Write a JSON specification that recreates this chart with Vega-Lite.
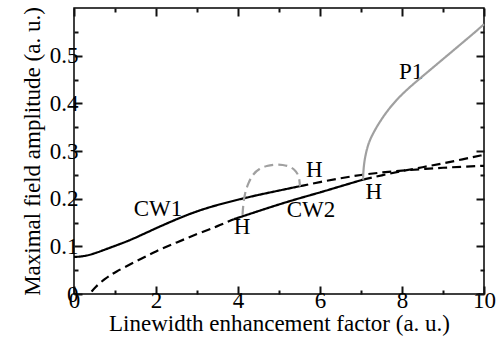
{
  "$schema": "https://vega.github.io/schema/vega-lite/v6.json",
  "width": 410,
  "height": 286,
  "autosize": "none",
  "padding": {"left": 74, "top": 8, "right": 20, "bottom": 49},
  "background": "white",
  "config": {
    "view": {"stroke": "black", "strokeWidth": 1.5},
    "font": "Liberation Serif",
    "axis": {"grid": false, "labelColor": "black", "titleColor": "black", "labelFont": "Liberation Serif", "titleFont": "Liberation Serif", "labelFontSize": 23, "titleFontSize": 23, "titleFontWeight": "normal", "labelFlush": false, "labelOverlap": false}
  },
  "datasets": {
    "curves": [
      {"seg": "CW1s", "col": "k", "dash": "solid", "x": 0, "y": 0.0777},
      {"seg": "CW1s", "col": "k", "dash": "solid", "x": 0.25, "y": 0.079},
      {"seg": "CW1s", "col": "k", "dash": "solid", "x": 0.5, "y": 0.085},
      {"seg": "CW1s", "col": "k", "dash": "solid", "x": 0.75, "y": 0.093},
      {"seg": "CW1s", "col": "k", "dash": "solid", "x": 1, "y": 0.101},
      {"seg": "CW1s", "col": "k", "dash": "solid", "x": 1.25, "y": 0.109},
      {"seg": "CW1s", "col": "k", "dash": "solid", "x": 1.5, "y": 0.118},
      {"seg": "CW1s", "col": "k", "dash": "solid", "x": 2, "y": 0.138},
      {"seg": "CW1s", "col": "k", "dash": "solid", "x": 2.5, "y": 0.157},
      {"seg": "CW1s", "col": "k", "dash": "solid", "x": 3, "y": 0.174},
      {"seg": "CW1s", "col": "k", "dash": "solid", "x": 3.5, "y": 0.187},
      {"seg": "CW1s", "col": "k", "dash": "solid", "x": 4, "y": 0.198},
      {"seg": "CW1s", "col": "k", "dash": "solid", "x": 4.5, "y": 0.208},
      {"seg": "CW1s", "col": "k", "dash": "solid", "x": 5, "y": 0.217},
      {"seg": "CW1s", "col": "k", "dash": "solid", "x": 5.5, "y": 0.226},
      {"seg": "CW1d", "col": "k", "dash": "dashed", "x": 5.5, "y": 0.226},
      {"seg": "CW1d", "col": "k", "dash": "dashed", "x": 6, "y": 0.235},
      {"seg": "CW1d", "col": "k", "dash": "dashed", "x": 6.5, "y": 0.243},
      {"seg": "CW1d", "col": "k", "dash": "dashed", "x": 7, "y": 0.25},
      {"seg": "CW1d", "col": "k", "dash": "dashed", "x": 7.5, "y": 0.255},
      {"seg": "CW1d", "col": "k", "dash": "dashed", "x": 8, "y": 0.259},
      {"seg": "CW1d", "col": "k", "dash": "dashed", "x": 8.5, "y": 0.262},
      {"seg": "CW1d", "col": "k", "dash": "dashed", "x": 9, "y": 0.265},
      {"seg": "CW1d", "col": "k", "dash": "dashed", "x": 9.5, "y": 0.267},
      {"seg": "CW1d", "col": "k", "dash": "dashed", "x": 10, "y": 0.269},
      {"seg": "CW2a", "col": "k", "dash": "dashed", "x": 0.43, "y": 0.005},
      {"seg": "CW2a", "col": "k", "dash": "dashed", "x": 0.5, "y": 0.013},
      {"seg": "CW2a", "col": "k", "dash": "dashed", "x": 0.75, "y": 0.032},
      {"seg": "CW2a", "col": "k", "dash": "dashed", "x": 1, "y": 0.046},
      {"seg": "CW2a", "col": "k", "dash": "dashed", "x": 1.5, "y": 0.068},
      {"seg": "CW2a", "col": "k", "dash": "dashed", "x": 2, "y": 0.09},
      {"seg": "CW2a", "col": "k", "dash": "dashed", "x": 2.5, "y": 0.108},
      {"seg": "CW2a", "col": "k", "dash": "dashed", "x": 3, "y": 0.126},
      {"seg": "CW2a", "col": "k", "dash": "dashed", "x": 3.5, "y": 0.142},
      {"seg": "CW2a", "col": "k", "dash": "dashed", "x": 3.9, "y": 0.157},
      {"seg": "CW2s", "col": "k", "dash": "solid", "x": 3.9, "y": 0.157},
      {"seg": "CW2s", "col": "k", "dash": "solid", "x": 4.5, "y": 0.174},
      {"seg": "CW2s", "col": "k", "dash": "solid", "x": 5, "y": 0.188},
      {"seg": "CW2s", "col": "k", "dash": "solid", "x": 5.5, "y": 0.201},
      {"seg": "CW2s", "col": "k", "dash": "solid", "x": 6, "y": 0.213},
      {"seg": "CW2s", "col": "k", "dash": "solid", "x": 6.5, "y": 0.226},
      {"seg": "CW2s", "col": "k", "dash": "solid", "x": 7.05, "y": 0.24},
      {"seg": "CW2b", "col": "k", "dash": "dashed", "x": 7.05, "y": 0.24},
      {"seg": "CW2b", "col": "k", "dash": "dashed", "x": 7.5, "y": 0.249},
      {"seg": "CW2b", "col": "k", "dash": "dashed", "x": 8, "y": 0.258},
      {"seg": "CW2b", "col": "k", "dash": "dashed", "x": 8.5, "y": 0.266},
      {"seg": "CW2b", "col": "k", "dash": "dashed", "x": 9, "y": 0.274},
      {"seg": "CW2b", "col": "k", "dash": "dashed", "x": 9.5, "y": 0.283},
      {"seg": "CW2b", "col": "k", "dash": "dashed", "x": 10, "y": 0.292},
      {"seg": "ARC", "col": "g", "dash": "dashed", "x": 4.11, "y": 0.166},
      {"seg": "ARC", "col": "g", "dash": "dashed", "x": 4.13, "y": 0.19},
      {"seg": "ARC", "col": "g", "dash": "dashed", "x": 4.17, "y": 0.212},
      {"seg": "ARC", "col": "g", "dash": "dashed", "x": 4.25, "y": 0.233},
      {"seg": "ARC", "col": "g", "dash": "dashed", "x": 4.37, "y": 0.252},
      {"seg": "ARC", "col": "g", "dash": "dashed", "x": 4.52, "y": 0.263},
      {"seg": "ARC", "col": "g", "dash": "dashed", "x": 4.7, "y": 0.269},
      {"seg": "ARC", "col": "g", "dash": "dashed", "x": 4.9, "y": 0.272},
      {"seg": "ARC", "col": "g", "dash": "dashed", "x": 5.1, "y": 0.271},
      {"seg": "ARC", "col": "g", "dash": "dashed", "x": 5.25, "y": 0.268},
      {"seg": "ARC", "col": "g", "dash": "dashed", "x": 5.38, "y": 0.261},
      {"seg": "ARC", "col": "g", "dash": "dashed", "x": 5.46, "y": 0.252},
      {"seg": "ARC", "col": "g", "dash": "dashed", "x": 5.5, "y": 0.24},
      {"seg": "ARC", "col": "g", "dash": "dashed", "x": 5.51, "y": 0.226},
      {"seg": "P1", "col": "g", "dash": "solid", "x": 7.05, "y": 0.24},
      {"seg": "P1", "col": "g", "dash": "solid", "x": 7.06, "y": 0.262},
      {"seg": "P1", "col": "g", "dash": "solid", "x": 7.09, "y": 0.283},
      {"seg": "P1", "col": "g", "dash": "solid", "x": 7.14, "y": 0.303},
      {"seg": "P1", "col": "g", "dash": "solid", "x": 7.2, "y": 0.32},
      {"seg": "P1", "col": "g", "dash": "solid", "x": 7.3, "y": 0.338},
      {"seg": "P1", "col": "g", "dash": "solid", "x": 7.46, "y": 0.362},
      {"seg": "P1", "col": "g", "dash": "solid", "x": 7.7, "y": 0.391},
      {"seg": "P1", "col": "g", "dash": "solid", "x": 7.95, "y": 0.415},
      {"seg": "P1", "col": "g", "dash": "solid", "x": 8.24, "y": 0.438},
      {"seg": "P1", "col": "g", "dash": "solid", "x": 8.52, "y": 0.458},
      {"seg": "P1", "col": "g", "dash": "solid", "x": 8.85, "y": 0.482},
      {"seg": "P1", "col": "g", "dash": "solid", "x": 9.17, "y": 0.505},
      {"seg": "P1", "col": "g", "dash": "solid", "x": 9.5, "y": 0.529},
      {"seg": "P1", "col": "g", "dash": "solid", "x": 9.75, "y": 0.547},
      {"seg": "P1", "col": "g", "dash": "solid", "x": 10, "y": 0.566}
    ],
    "labels": [
      {"label": "CW1", "x": 2.05, "y": 0.179},
      {"label": "CW2", "x": 5.78, "y": 0.176},
      {"label": "P1", "x": 8.22, "y": 0.466},
      {"label": "H", "x": 5.86, "y": 0.26},
      {"label": "H", "x": 4.1, "y": 0.14},
      {"label": "H", "x": 7.31, "y": 0.213}
    ]
  },
  "layer": [
    {
      "data": {"name": "labels"},
      "mark": {"type": "text", "font": "Liberation Serif", "fontSize": 23, "color": "black", "align": "center", "baseline": "middle"},
      "encoding": {
        "x": {"field": "x", "type": "quantitative", "scale": {"domain": [0, 10], "nice": false},
          "axis": {"orient": "bottom", "values": [0,2,4,6,8,10], "ticks": true, "tickSize": -8, "tickColor": "#111111", "tickWidth": 2, "domain": false, "labelPadding": 3, "title": "Linewidth enhancement factor (a. u.)", "titlePadding": 0}},
        "y": {"field": "y", "type": "quantitative", "scale": {"domain": [0, 0.6], "nice": false},
          "axis": {"orient": "left", "values": [0,0.1,0.2,0.3,0.4,0.5], "format": ".1~f", "ticks": true, "tickSize": -8, "tickColor": "#111111", "tickWidth": 2, "domain": false, "labelPadding": 4, "title": "Maximal field amplitude (a. u.)", "titlePadding": 5}},
        "text": {"field": "label"}
      }
    },
    {
      "data": {"name": "curves"},
      "mark": {"type": "line", "interpolate": "basis", "strokeWidth": 2.2},
      "encoding": {
        "x": {"field": "x", "type": "quantitative", "scale": {"domain": [0, 10], "nice": false},
          "axis": {"orient": "top", "values": [0,2,4,6,8,10], "labels": false, "title": null, "ticks": true, "tickSize": -8, "tickColor": "#111111", "tickWidth": 2, "domain": false}},
        "y": {"field": "y", "type": "quantitative", "scale": {"domain": [0, 0.6], "nice": false},
          "axis": {"orient": "right", "values": [0,0.1,0.2,0.3,0.4,0.5], "labels": false, "title": null, "ticks": true, "tickSize": -8, "tickColor": "#111111", "tickWidth": 2, "domain": false}},
        "color": {"field": "col", "type": "nominal", "scale": {"domain": ["k", "g"], "range": ["#000000", "#a0a0a0"]}, "legend": null},
        "strokeDash": {"field": "dash", "type": "nominal", "scale": {"domain": ["solid", "dashed"], "range": [[1, 0], [9, 5]]}, "legend": null},
        "detail": {"field": "seg"}
      }
    },
    {
      "data": {"name": "labels"},
      "mark": {"type": "point", "opacity": 0},
      "encoding": {
        "x": {"field": "x", "type": "quantitative", "scale": {"domain": [0, 10], "nice": false},
          "axis": {"orient": "bottom", "values": [1,3,5,7,9], "labels": false, "title": null, "ticks": true, "tickSize": -4, "tickColor": "#111111", "tickWidth": 2, "domain": false}},
        "y": {"field": "y", "type": "quantitative", "scale": {"domain": [0, 0.6], "nice": false},
          "axis": {"orient": "left", "values": [0.05,0.15,0.25,0.35,0.45,0.55], "labels": false, "title": null, "ticks": true, "tickSize": -4, "tickColor": "#111111", "tickWidth": 2, "domain": false}}
      }
    },
    {
      "data": {"name": "labels"},
      "mark": {"type": "point", "opacity": 0},
      "encoding": {
        "x": {"field": "x", "type": "quantitative", "scale": {"domain": [0, 10], "nice": false},
          "axis": {"orient": "top", "values": [1,3,5,7,9], "labels": false, "title": null, "ticks": true, "tickSize": -4, "tickColor": "#111111", "tickWidth": 2, "domain": false}},
        "y": {"field": "y", "type": "quantitative", "scale": {"domain": [0, 0.6], "nice": false},
          "axis": {"orient": "right", "values": [0.05,0.15,0.25,0.35,0.45,0.55], "labels": false, "title": null, "ticks": true, "tickSize": -4, "tickColor": "#111111", "tickWidth": 2, "domain": false}}
      }
    }
  ],
  "resolve": {"axis": {"x": "independent", "y": "independent"}}
}
